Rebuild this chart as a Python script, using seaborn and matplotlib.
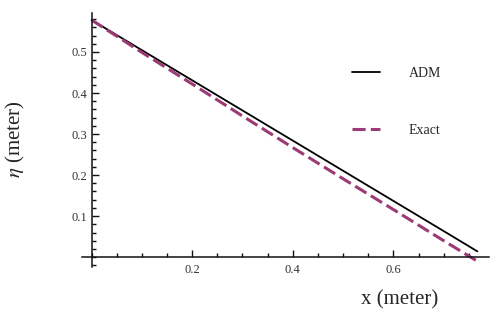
import numpy as np
import pandas as pd
import matplotlib
matplotlib.use('Agg')
import matplotlib.pyplot as plt
from matplotlib.ticker import MultipleLocator, FixedLocator
import seaborn as sns

# データ
x_vals = [0.0, 0.1, 0.2, 0.3, 0.4, 0.5, 0.6, 0.7, 0.767]
adm_vals = [0.578, 0.5045, 0.431, 0.3575, 0.284, 0.2105, 0.137, 0.0635, 0.014]
exact_vals = [0.578, 0.499, 0.422, 0.344, 0.267, 0.191, 0.116, 0.040, -0.010]

df = pd.DataFrame({'x': x_vals, 'ADM': adm_vals, 'Exact': exact_vals})

sns.set_style('ticks')
plt.rcParams['font.family'] = ['Liberation Serif', 'DejaVu Serif']
plt.rcParams['mathtext.fontset'] = 'stix'

fig = plt.figure(figsize=(5.0, 3.18), dpi=100)
ax = fig.add_axes([82 / 500, 1 - 267 / 318, 407 / 500, 254 / 318])

sns.lineplot(data=df, x='x', y='ADM', ax=ax, color='black', linewidth=1.3,
             label='ADM')
sns.lineplot(data=df, x='x', y='Exact', ax=ax, color='#9b3a74', linewidth=2.2,
             linestyle=(0, (4.3, 1.7)), label='Exact')

ax.set_xlim(-0.019, 0.79)
ax.set_ylim(-0.024, 0.595)

# 軸を原点で交差
ax.spines['left'].set_position(('data', 0))
ax.spines['bottom'].set_position(('data', 0))
ax.spines['top'].set_visible(False)
ax.spines['right'].set_visible(False)
for s in ['left', 'bottom']:
    ax.spines[s].set_linewidth(1.1)
    ax.spines[s].set_color('#111111')

ax.xaxis.set_major_locator(FixedLocator([0.2, 0.4, 0.6]))
ax.xaxis.set_minor_locator(MultipleLocator(0.05))
ax.yaxis.set_major_locator(FixedLocator([0.1, 0.2, 0.3, 0.4, 0.5]))
ax.yaxis.set_minor_locator(MultipleLocator(0.02))
ax.xaxis.set_major_formatter(lambda v, p: f'{v:.1f}')
ax.yaxis.set_major_formatter(lambda v, p: f'{v:.1f}')

ax.tick_params(which='major', direction='in', length=5, width=1.0,
               labelsize=9, labelcolor='#333333', color='#111111')
ax.tick_params(which='minor', direction='in', length=3, width=1.0,
               color='#111111')
ax.tick_params(axis='x', which='major', pad=5)
ax.tick_params(axis='y', which='major', pad=3)

ax.set_xlabel('')
ax.set_ylabel('')
fig.text(400 / 500, 1 - 300 / 318, 'x (meter)', ha='center', va='center',
         fontsize=15)
fig.text(15 / 500, 1 - 139 / 318, r'$\eta$ (meter)', ha='center', va='center',
         rotation=90, fontsize=15)

ax.legend(loc='center left', bbox_to_anchor=(352 / 500, 1 - 102 / 318),
          bbox_transform=fig.transFigure, frameon=False, fontsize=10,
          handlelength=2.0, handletextpad=2.1, labelspacing=3.2,
          borderpad=0, borderaxespad=0)

plt.savefig('out.png', dpi=100)
